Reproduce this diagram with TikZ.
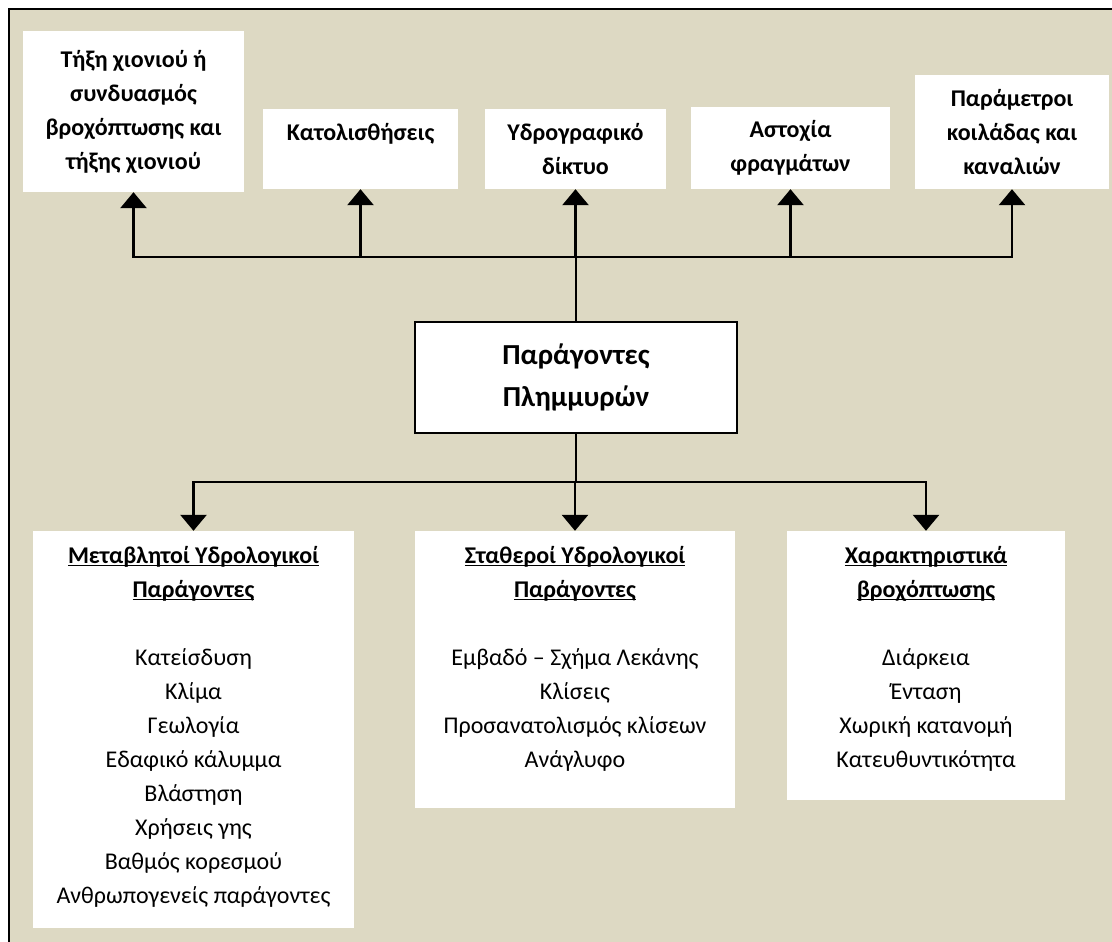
\documentclass[tikz,border=0pt]{standalone}
\usepackage{fontspec}
\setmainfont{Carlito}
\usetikzlibrary{arrows.meta}
\definecolor{bgtan}{RGB}{221,217,195}
\newcommand\hdline[1]{\setbox0\hbox{#1}\rlap{\rule[-3pt]{\wd0}{1.6pt}}\box0}

\begin{document}
\begin{tikzpicture}[x=1pt,y=-1pt,
    topbox/.style={fill=white,inner sep=0pt,align=center,font=\fontsize{24}{34}\selectfont\bfseries},
    lowbox/.style={fill=white,inner sep=0pt},
    lowtext/.style={inner sep=0pt,anchor=north,align=center,font=\fontsize{24}{34}\selectfont},
    conn/.style={line width=2.8pt},
    arr/.style={conn,-{Triangle[width=26pt,length=16pt]}}]
    \useasboundingbox (0,0) rectangle (1112,942);
    \clip (0,0) rectangle (1112,942);
    \fill[bgtan] (9,9) rectangle (1140,970);
    \draw[line width=2pt] (9,9) rectangle (1140,970);

    % top row
    \node[topbox,minimum width=221pt,minimum height=161pt] (snow) at (133.5,111.5)
        {Τήξη χιονιού ή\\συνδυασμός\\βροχόπτωσης και\\τήξης χιονιού};
    \node[topbox,minimum width=195pt,minimum height=80pt] (slides) at (360.5,149) {Κατολισθήσεις\\~};
    \node[topbox,minimum width=181pt,minimum height=80pt] (network) at (575.5,149) {Υδρογραφικό\\δίκτυο};
    \node[topbox,minimum width=199pt,minimum height=82pt] (dams) at (790.5,148) {Αστοχία\\φραγμάτων};
    \node[topbox,minimum width=194pt,minimum height=114pt] (valley) at (1012,132)
        {Παράμετροι\\κοιλάδας και\\καναλιών};

    % centre
    \node[fill=white,draw=black,line width=2pt,minimum width=322pt,minimum height=111pt,
        align=center,font=\fontsize{29}{42}\selectfont\bfseries] (flood) at (576,377.5)
        {Παράγοντες\\Πλημμυρών};

    % bottom row
    \node[lowbox,minimum width=321pt,minimum height=397pt] (varfac) at (193.5,729.5) {};
    \node[lowbox,minimum width=320pt,minimum height=277pt] (fixfac) at (575,669.5) {};
    \node[lowbox,minimum width=278pt,minimum height=269pt] (rain) at (926,665.5) {};
    \node[lowtext] (varfac-txt) at ([yshift=-15pt]varfac.north)
        {\textbf{\hdline{Μεταβλητοί Υδρολογικοί}}\\\textbf{\hdline{Παράγοντες}}\\[34pt]
         Κατείσδυση\\Κλίμα\\Γεωλογία\\Εδαφικό κάλυμμα\\Βλάστηση\\Χρήσεις γης\\Βαθμός κορεσμού\\Ανθρωπογενείς παράγοντες};
    \node[lowtext] (fixfac-txt) at ([yshift=-15pt]fixfac.north)
        {\textbf{\hdline{Σταθεροί Υδρολογικοί}}\\\textbf{\hdline{Παράγοντες}}\\[34pt]
         Εμβαδό – Σχήμα Λεκάνης\\Κλίσεις\\Προσανατολισμός κλίσεων\\Ανάγλυφο};
    \node[lowtext] (rain-txt) at ([yshift=-15pt]rain.north)
        {\textbf{\hdline{Χαρακτηριστικά}}\\\textbf{\hdline{βροχόπτωσης}}\\[34pt]
         Διάρκεια\\Ένταση\\Χωρική κατανομή\\Κατευθυντικότητα};

    % connectors
    \coordinate (tophub) at (576,257);
    \coordinate (lowhub) at (576,482);
    \draw[conn] (flood.north) -- (tophub);
    \foreach \b in {snow,slides,network,dams,valley}
        \draw[arr] (tophub) -| (\b.south);
    \draw[conn] (flood.south) -- (lowhub);
    \foreach \b in {varfac,fixfac,rain}
        \draw[arr] (lowhub) -| (\b.north);
\end{tikzpicture}
\end{document}
